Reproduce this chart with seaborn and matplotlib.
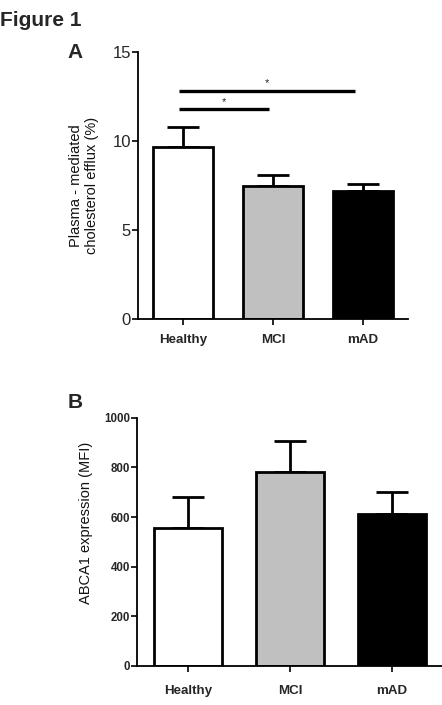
import matplotlib
matplotlib.use("Agg")
import matplotlib.pyplot as plt
import seaborn as sns
import pandas as pd
import numpy as np

groups = ["Healthy", "MCI", "mAD"]
efflux_mean = [9.66, 7.47, 7.19]
efflux_sem = [1.13, 0.60, 0.39]
abca1_mean = [554, 781, 613]
abca1_sem = [128, 126, 88]
colors = ["#ffffff", "#c0c0c0", "#000000"]
efflux_ticks = [0, 5, 10, 15]
abca1_ticks = [0, 200, 400, 600, 800, 1000]
sig_pairs = [(0, 1, 11.78), (0, 2, 12.83)]

sns.set_theme(style="ticks")
plt.rcParams["font.family"] = ["Liberation Sans", "DejaVu Sans"]

fig = plt.figure(figsize=(4.42, 7.05), dpi=100)
axA = fig.add_axes([138/442, 1-319/705, 270/442, 267/705])
axB = fig.add_axes([137/442, 1-666/705, 306/442, 248.3/705])

def panel(ax, means, sems, ylim, ticks, ylabel, tick_fs, tick_bold, ylabel_fs, xpad):
    df = pd.DataFrame({"group": groups, "value": means})
    sns.barplot(data=df, x="group", y="value", hue="group", palette=colors,
                edgecolor="black", linewidth=2.0, width=0.667, legend=False,
                ax=ax, errorbar=None, zorder=2)
    ax.errorbar(range(len(groups)), means, yerr=[np.zeros(len(means)), sems],
                fmt="none", ecolor="black", elinewidth=2.0, capsize=11.5,
                capthick=2.0, zorder=1)
    ax.set_xlim(-0.5, 2.5)
    ax.set_ylim(*ylim)
    ax.set_yticks(ticks)
    ax.set_yticklabels([str(t) for t in ticks], fontsize=tick_fs,
                       fontweight="bold" if tick_bold else "normal")
    ax.set_xticks(range(len(groups)))
    ax.set_xticklabels(groups, fontsize=9.6, fontweight="bold")
    ax.tick_params(axis="y", length=4, width=1.2, pad=1, color="black")
    ax.tick_params(axis="x", length=4, width=1.2, pad=xpad, color="black")
    ax.set_xlabel("")
    ax.set_ylabel(ylabel, fontsize=ylabel_fs, color="#111111")
    for s in ["top", "right"]:
        ax.spines[s].set_visible(False)
    for s in ["left", "bottom"]:
        ax.spines[s].set_linewidth(1.3)
        ax.spines[s].set_color("black")

panel(axA, efflux_mean, efflux_sem, (0, 15), efflux_ticks,
      "Plasma - mediated\ncholesterol efflux (%)", 12, False, 10.5, 7)
axA.yaxis.set_label_coords(-0.145, 0.5)
panel(axB, abca1_mean, abca1_sem, (0, 1000), abca1_ticks,
      "ABCA1 expression (MFI)", 8.3, True, 10.5, 10)
axB.yaxis.set_label_coords(-0.145, 0.575)

for (i, j, y) in sig_pairs:
    x0 = i - 0.04
    x1 = j - 0.05 if j == 1 else j - 0.09
    axA.plot([x0, x1], [y, y], color="black", lw=2.4,
             solid_capstyle="butt", clip_on=False)
    axA.text((x0 + x1) / 2, y + 0.15, "*",
             ha="center", va="bottom", fontsize=8)

fig.text(0.0, 0.985, "Figure 1", fontsize=15, fontweight="bold", ha="left", va="top")
fig.text(75/442, 1-53/705, "A", fontsize=15, fontweight="bold", ha="center", va="center")
fig.text(75/442, 1-402/705, "B", fontsize=15, fontweight="bold", ha="center", va="center")

fig.savefig("out.png", dpi=100)
